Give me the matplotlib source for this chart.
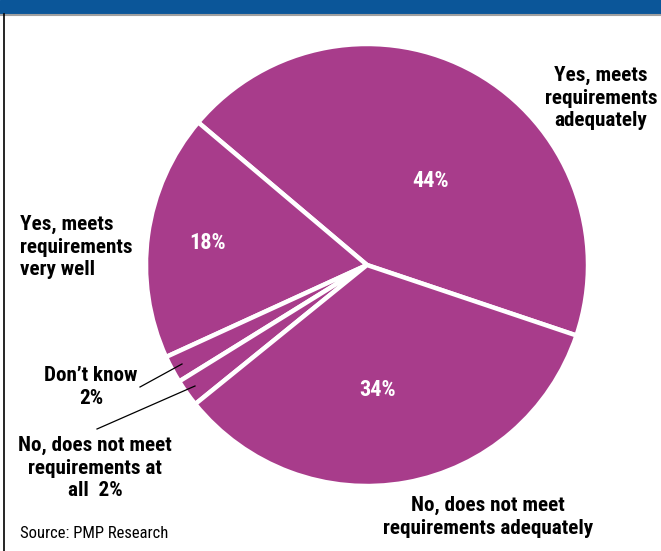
import matplotlib.pyplot as plt
from matplotlib.patches import Rectangle

# Survey responses (percent), counter-clockwise from the 44% slice
answers = ["Yes, meets\nrequirements\nadequately",
           "Yes, meets\nrequirements\nvery well",
           "Don\u2019t know",
           "No, does not meet\nrequirements at\nall",
           "No, does not meet\nrequirements adequately"]
shares = [44, 18, 2, 2, 34]

W, H = 661, 551
purple = "#A83C8B"
plt.rcParams['font.family'] = ['Roboto Condensed', 'Roboto', 'DejaVu Sans']

fig = plt.figure(figsize=(W / 100, H / 100), dpi=100)
ax = fig.add_axes([0, 0, 1, 1])

def py(y):
    # pixel rows counted from the top
    return H - y

# header bar and frame
ax.add_patch(Rectangle((0, py(14)), W, 14, color="#0B5699", zorder=1))
ax.plot([0, W], [py(14.5), py(14.5)], color="#A0A0A0", lw=1.5)
ax.plot([3.5, 3.5], [0, py(14)], color="black", lw=1.2)

cx, cy, r = 367, py(265), 221
wedges, _ = ax.pie(shares, center=(cx, cy), radius=r, startangle=-18.6,
                   counterclock=True, colors=[purple] * len(shares),
                   wedgeprops=dict(edgecolor="white", linewidth=3.2))
ax.set_aspect("auto")
ax.set_xlim(0, W)
ax.set_ylim(0, H)
ax.axis("off")

bold = dict(fontsize=15.2, fontweight="bold", linespacing=1.26)
# percentages inside the big slices
inner = {0: (431, 181), 1: (208, 243), 4: (378, 390)}
for i, (x, y) in inner.items():
    ax.text(x, py(y), f"{shares[i]}%", color="white", ha="center",
            va="center", fontsize=16, fontweight="bold")

# outside labels
ax.text(601, py(98), answers[0], ha="center", va="center", **bold)
ax.text(20, py(247), answers[1], ha="left", va="center", **bold)
ax.text(91, py(387), f"{answers[2]}\n{shares[2]}%", ha="center",
        va="center", **bold)
ax.text(95, py(468), f"{answers[3]}  {shares[3]}%", ha="center",
        va="center", **bold)
ax.text(488, py(517), answers[4], ha="center", va="center", **bold)

# leader lines for the two thin slices
ax.plot([140, 182], [py(387), py(364)], color="black", lw=0.9)
ax.plot([97, 195], [py(429), py(386)], color="black", lw=0.9)

ax.text(20, py(533), "Source: PMP Research", ha="left", va="center",
        fontsize=12)

fig.savefig("out.png", dpi=100)
